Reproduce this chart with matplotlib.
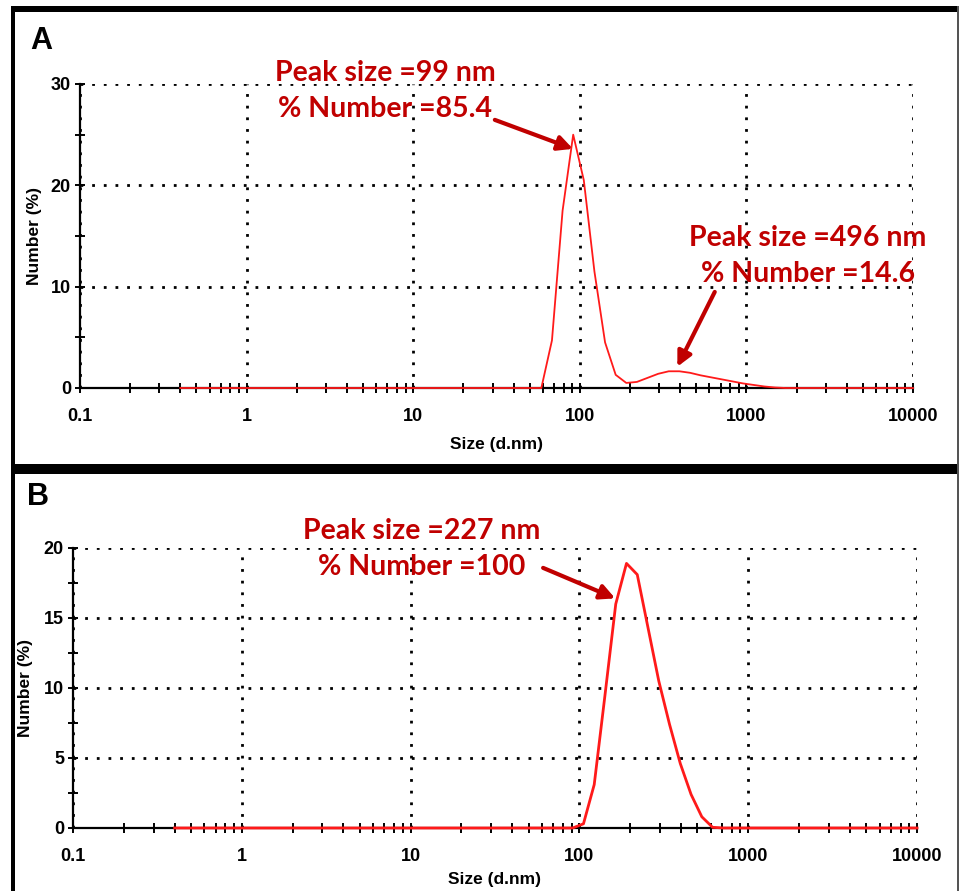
import numpy as np
import matplotlib.pyplot as plt
from matplotlib.patches import Rectangle
from matplotlib.ticker import LogLocator, MultipleLocator, FixedLocator

# size classes (d.nm) and number distributions
size_a = [0.4, 58.77, 68.06, 78.82, 91.28, 105.7, 122.4, 141.8, 164.2, 190.1,
          220.2, 255.0, 295.3, 342.0, 396.1, 458.7, 531.2, 615.1, 712.4, 825.0,
          955.4, 1106, 1281, 1484, 1718, 10000]
number_a = [0, 0, 4.7, 17.5, 25.0, 20.5, 11.5, 4.5, 1.3, 0.5,
            0.6, 1.0, 1.4, 1.65, 1.65, 1.5, 1.25, 1.05, 0.85, 0.65,
            0.45, 0.3, 0.15, 0.05, 0, 0]

size_b = [0.4, 91.28, 105.7, 122.4, 141.8, 164.2, 190.1, 220.2, 255.0, 295.3,
          342.0, 396.1, 458.7, 531.2, 615.1, 712.4, 10000]
number_b = [0, 0, 0.3, 3.1, 9.5, 16.0, 18.9, 18.1, 14.3, 10.5,
            7.4, 4.6, 2.4, 0.8, 0.05, 0, 0]

xticks = [0.1, 1, 10, 100, 1000, 10000]
xticklabels = ['0.1', '1', '10', '100', '1000', '10000']

ann_color = '#C00000'
line_color = '#FF1A1A'
ann_font = 'Lato'

W, H = 960, 891
fig = plt.figure(figsize=(W / 100, H / 100), dpi=100)
plt.rcParams['font.family'] = ['Liberation Sans', 'DejaVu Sans']


def px_rect(x0, y0, x1, y1, color='black'):
    # rectangle given in pixel coords measured from the top-left
    fig.add_artist(Rectangle((x0 / W, 1 - y1 / H), (x1 - x0) / W, (y1 - y0) / H,
                             transform=fig.transFigure, facecolor=color,
                             edgecolor='none', zorder=10))


def setup_axes(ax, ymax, ystep, lw_curve, x, y):
    ax.plot(x, y, color=line_color, lw=lw_curve, zorder=3, clip_on=False)
    ax.set_xscale('log')
    ax.set_xlim(0.1, 10000)
    ax.set_ylim(0, ymax)
    for s in ['top', 'right']:
        ax.spines[s].set_visible(False)
    for s in ['left', 'bottom']:
        ax.spines[s].set_linewidth(1.6)
        ax.spines[s].set_zorder(2)
    ax.xaxis.set_major_locator(FixedLocator(xticks))
    ax.set_xticklabels(xticklabels)
    ax.xaxis.set_minor_locator(LogLocator(base=10, subs=np.arange(2, 10), numticks=20))
    ax.yaxis.set_major_locator(MultipleLocator(ystep))
    ax.yaxis.set_minor_locator(MultipleLocator(ystep / 2))
    ax.tick_params(which='both', direction='inout', width=1.4, colors='black', length=7)
    ax.tick_params(axis='x', which='major', pad=11, labelsize=13)
    ax.tick_params(axis='y', which='major', pad=3, labelsize=13)
    for lab in ax.get_xticklabels() + ax.get_yticklabels():
        lab.set_fontweight('bold')
    ax.grid(True, which='major', color='black', lw=2.0, linestyle=(0, (1, 3.2)))
    ax.set_axisbelow(True)
    ax.set_xlabel('Size (d.nm)', fontsize=12.5, fontweight='bold')
    ax.set_ylabel('Number (%)', fontsize=12.5, fontweight='bold')


ann_kw = dict(textcoords='axes fraction', ha='center', va='center', color=ann_color,
              fontsize=20.5, fontweight='bold', family=ann_font, linespacing=1.45)
arrow_kw = dict(arrowstyle='-|>', lw=3, color=ann_color, mutation_scale=22,
                shrinkA=0, shrinkB=0)

# panel A
ax1 = fig.add_axes([80 / W, 1 - 388 / H, 833 / W, 304 / H])
setup_axes(ax1, 30, 10, 1.3, size_a, number_a)
ax1.xaxis.set_label_coords(0.5, -0.161)
ax1.yaxis.set_label_coords(-0.0456, 0.5)

ax1.annotate('Peak size =99 nm\n% Number =85.4', xy=(92, 24.0), xytext=(0.366, 0.977),
             **ann_kw)
ax1.annotate('', xy=(91, 23.6), xytext=(0.498, 0.882), textcoords='axes fraction',
             arrowprops=arrow_kw)
ax1.annotate('Peak size =496 nm\n% Number =14.6', xy=(385, 2.1), xytext=(0.874, 0.434),
             **ann_kw)
ax1.annotate('', xy=(385, 2.1), xytext=(0.762, 0.316), textcoords='axes fraction',
             arrowprops=arrow_kw)

# panel B
ax2 = fig.add_axes([73 / W, 1 - 828 / H, 844 / W, 280 / H])
setup_axes(ax2, 20, 5, 2.0, size_b, number_b)
ax2.xaxis.set_label_coords(0.5, -0.157)
ax2.yaxis.set_label_coords(-0.047, 0.5)

ax2.annotate('Peak size =227 nm\n% Number =100', xy=(163, 16.4), xytext=(0.413, 0.996),
             **ann_kw)
ax2.annotate('', xy=(163, 16.4), xytext=(0.557, 0.929), textcoords='axes fraction',
             arrowprops=arrow_kw)

# panel letters
fig.text(41 / W, 1 - 41 / H, 'A', fontsize=22, fontweight='bold', ha='center', va='center')
fig.text(38 / W, 1 - 497 / H, 'B', fontsize=22, fontweight='bold', ha='center', va='center')

# panel frames
px_rect(11, 6, 958, 12)
px_rect(11, 464, 958, 474)
px_rect(11, 6, 15, 891)
px_rect(957, 6, 959, 891, color='#555555')

fig.savefig('out.png', dpi=100)
